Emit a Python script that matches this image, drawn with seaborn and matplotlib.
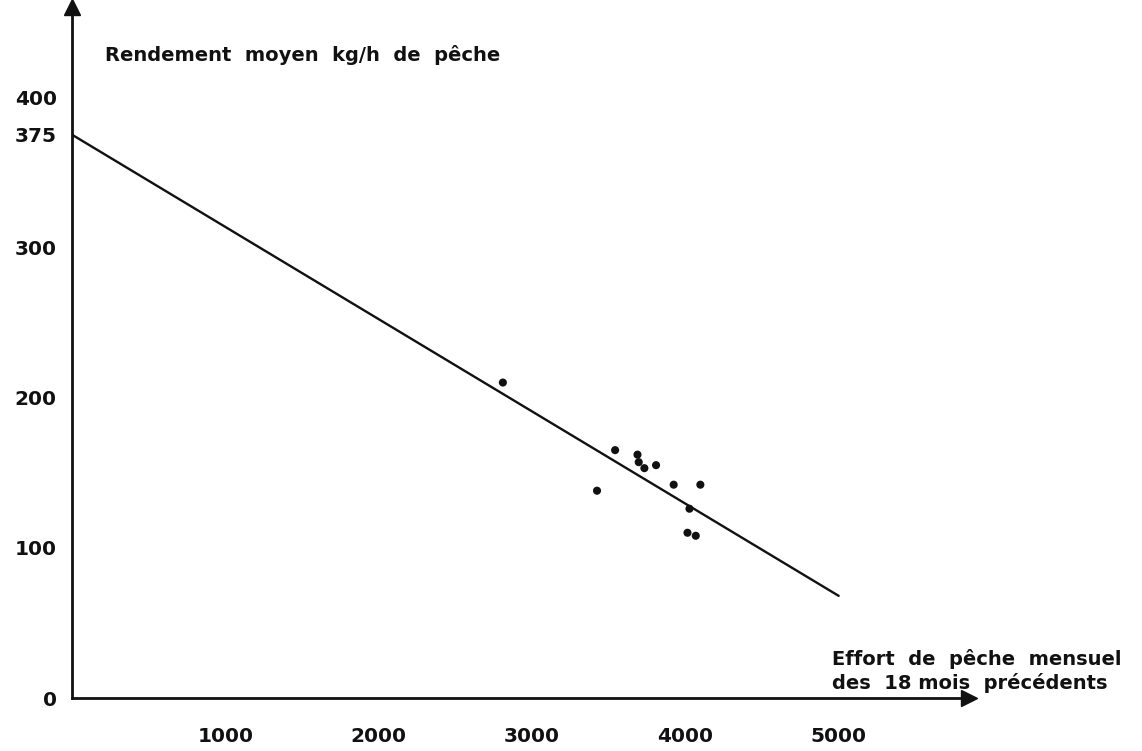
import matplotlib
matplotlib.use("Agg")
import matplotlib.pyplot as plt
import seaborn as sns
import pandas as pd

# Data
effort = [2810, 3542, 3688, 3696, 3733, 3809, 3424, 3924, 4098, 4027, 4014, 4068]
rendement = [210, 165, 162, 157, 153, 155, 138, 142, 142, 126, 110, 108]
line_x = [0, 5000]
line_y = [375, 68]
x_ticks = [1000, 2000, 3000, 4000, 5000]
y_ticks = [0, 100, 200, 300, 375, 400]
y_title = "Rendement  moyen  kg/h  de  pêche"
x_title = "Effort  de  pêche  mensuel\ndes  18 mois  précédents"

sns.set_theme(style="white")
plt.rcParams['font.family'] = ['DejaVu Sans']

fig = plt.figure(figsize=(11.42, 7.51), dpi=100)
ax = fig.add_axes([72/1142, 53/751, 897/1142, 691/751])

pts = pd.DataFrame({"effort": effort, "rendement": rendement})
ln = pd.DataFrame({"x": line_x, "y": line_y})
sns.lineplot(data=ln, x="x", y="y", ax=ax, color="#111111", linewidth=1.7)
sns.scatterplot(data=pts, x="effort", y="rendement", ax=ax, color="#111111",
                s=34, edgecolor="none", zorder=3)

ax.set_xlim(0, 5850)
ax.set_ylim(0, 460)
for s in ["top", "right"]:
    ax.spines[s].set_visible(False)
for s in ["left", "bottom"]:
    ax.spines[s].set_color("#111111")
    ax.spines[s].set_linewidth(2.0)

ax.set_xticks(x_ticks)
ax.set_xticklabels([str(t) for t in x_ticks])
ax.set_yticks(y_ticks)
ax.set_yticklabels([str(t) for t in y_ticks])
ax.tick_params(axis="x", direction="out", length=8, width=1.8, color="#111111",
               pad=13, labelsize=14.5, labelcolor="#111111")
ax.tick_params(axis="y", direction="out", length=8, width=1.5, color="#111111",
               pad=3, labelsize=14.5, labelcolor="#111111")
for lab in ax.get_xticklabels() + ax.get_yticklabels():
    lab.set_fontweight("bold")

ax.set_xlabel("")
ax.set_ylabel("")

# arrow heads at the ends of the axes
ax.plot([0], [1], marker="^", markersize=11, color="#111111", transform=ax.transAxes,
        clip_on=False)
ax.plot([1], [0], marker=">", markersize=11, color="#111111", transform=ax.transAxes,
        clip_on=False)

ax.text(105/1142, 1 - 55/751, y_title, transform=fig.transFigure, fontsize=14,
        fontweight="bold", color="#111111", va="center", ha="left")
ax.text(832/1142, 1 - 671/751, x_title, transform=fig.transFigure, fontsize=14,
        fontweight="bold", color="#111111", va="center", ha="left", linespacing=1.2)

fig.savefig("out.png", dpi=100)
